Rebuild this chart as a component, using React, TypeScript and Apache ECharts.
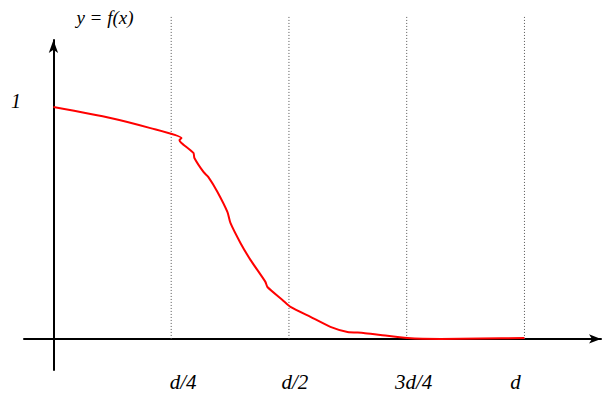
import React, { useEffect, useRef } from "react";
import * as echarts from "echarts";

// Curve y = f(x), x measured in quarters of d (d = 4)
const curveX = [0, 0.484, 0.824, 1.087, 1.07, 1.087, 1.189, 1.197, 1.274, 1.316, 1.393, 1.478, 1.503, 1.588, 1.673, 1.8, 1.817, 1.945, 2.013, 2.183, 2.352, 2.497, 2.633, 2.777, 3.006, 3.287, 3.626, 4.0];
const curveY = [1.0, 0.953, 0.909, 0.866, 0.858, 0.845, 0.802, 0.78, 0.72, 0.698, 0.634, 0.547, 0.5, 0.414, 0.341, 0.246, 0.224, 0.168, 0.138, 0.095, 0.052, 0.03, 0.026, 0.017, 0.004, 0.0, 0.002, 0.004];

// Vertical dotted guides at d/4, d/2, 3d/4, d
const guideX = [1, 2, 3, 4];
const guideTop = 1.397;
const tickLabels = ["d/4", "d/2", "3d/4", "d"];
const labelShift = [12, 6, 7, -9];
const yLabel = "1";
const title = "y = f(x)";

export default function App() {
  const ref = useRef<HTMLDivElement>(null);
  useEffect(() => {
    document.body.style.margin = "0";
    const chart = echarts.init(ref.current!, null, { renderer: "svg" });
    const family = "Liberation Serif";
    const guideSeries = guideX.map((gx) => ({
      type: "line",
      data: [[gx, 0], [gx, guideTop]],
      showSymbol: false,
      clip: false,
      silent: true,
      lineStyle: { color: "#555", width: 1, type: [1, 2] },
      z: 1,
    }));
    chart.setOption({
      animation: false,
      grid: { left: 24, right: 2, top: 40, bottom: 26 },
      xAxis: {
        type: "value",
        min: -0.25,
        max: 4.65,
        axisLine: { show: true, onZero: true, symbol: ["none", "arrow"], symbolSize: [7, 12], lineStyle: { color: "#000", width: 2 } },
        axisTick: { show: false },
        axisLabel: { show: false },
        splitLine: { show: false },
      },
      yAxis: {
        type: "value",
        min: -0.134,
        max: 1.289,
        axisLine: { show: true, onZero: true, symbol: ["none", "arrow"], symbolSize: [7, 13], lineStyle: { color: "#000", width: 2 } },
        axisTick: { show: false },
        axisLabel: { show: false },
        splitLine: { show: false },
      },
      series: [
        ...guideSeries,
        {
          type: "line",
          data: curveX.map((x, i) => [x, curveY[i]]),
          showSymbol: false,
          smooth: 0.2,
          lineStyle: { color: "#ff0000", width: 2 },
          z: 3,
        },
      ],
    });
    const texts: any[] = [];
    guideX.forEach((gx, i) => {
      const p = chart.convertToPixel({ gridIndex: 0 }, [gx, 0]);
      texts.push({
        type: "text",
        x: p[0] + labelShift[i],
        y: 382,
        style: { text: tickLabels[i], fontFamily: family, fontStyle: "italic", fontSize: 21, fill: "#000", align: "center", verticalAlign: "middle" },
      });
    });
    const p1 = chart.convertToPixel({ gridIndex: 0 }, [0, 1]);
    texts.push({
      type: "text",
      x: 16,
      y: p1[1] - 6,
      style: { text: yLabel, fontFamily: family, fontStyle: "italic", fontSize: 20, fill: "#000", align: "center", verticalAlign: "middle" },
    });
    texts.push({
      type: "text",
      x: 105,
      y: 17,
      style: { text: title, fontFamily: family, fontStyle: "italic", fontSize: 19, fill: "#000", align: "center", verticalAlign: "middle" },
    });
    chart.setOption({ graphic: texts });
    return () => chart.dispose();
  }, []);
  return <div ref={ref} style={{ width: 603, height: 396 }} />;
}
